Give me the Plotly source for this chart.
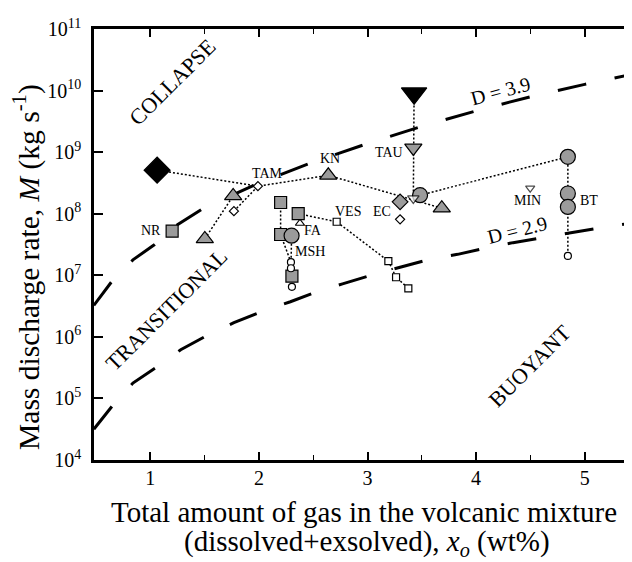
import plotly.graph_objects as go

FONT = "Liberation Serif"
GRAY = "#9b9b9b"

# ---------------- data ----------------
# regime boundary curves (x in wt%, log10 of M in kg/s)
d39_x = [0.48, 0.65, 0.84, 1.04, 1.25, 1.48, 2.00, 2.50, 3.00, 3.50, 4.00, 4.50, 5.00, 5.45]
d39_log10m = [6.51, 6.91, 7.25, 7.50, 7.82, 8.08, 8.50, 8.84, 9.14, 9.42, 9.67, 9.90, 10.10, 10.27]
d29_x = [0.48, 0.66, 0.84, 1.06, 1.28, 1.53, 1.77, 2.01, 2.29, 2.53, 2.77, 3.03, 3.30, 3.55,
         3.83, 4.08, 4.34, 4.66, 4.89, 5.14, 5.44]
d29_log10m = [4.50, 4.90, 5.25, 5.51, 5.79, 6.03, 6.23, 6.40, 6.57, 6.73, 6.86, 7.00, 7.13, 7.25,
              7.34, 7.44, 7.53, 7.63, 7.70, 7.77, 7.85]

# dotted connecting paths (x in wt%, M in kg/s)
path_tam_kn_x = [1.063, 1.991, 2.639]
path_tam_kn_m = [5.1e8, 2.8e8, 4.2e8]
path_kn_tri_x = [2.639, 3.684]
path_kn_tri_m = [4.2e8, 1.23e8]
path_tam_tri_x = [1.502, 1.763]
path_tam_tri_m = [3.9e7, 1.95e8]
path_tam_dia_x = [1.770, 1.991]
path_tam_dia_m = [1.1e8, 2.8e8]
path_tau_x = [3.429, 3.422, 3.422]
path_tau_m = [9.0e9, 1.17e9, 1.77e8]
path_bt_link_x = [3.484, 4.845]
path_bt_link_m = [2.0e8, 8.4e8]
path_bt_x = [4.845, 4.845]
path_bt_m = [8.4e8, 2.06e7]
path_ves_x = [2.362, 2.716, 3.192, 3.263, 3.376]
path_ves_m = [1.0e8, 7.4e7, 1.7e7, 9.3e6, 6.15e6]
path_msh1_x = [2.200, 2.200, 2.295]
path_msh1_m = [1.52e8, 4.6e7, 1.63e7]
path_msh2_x = [2.301, 2.295, 2.295, 2.304, 2.304]
path_msh2_m = [4.4e7, 1.63e7, 1.3e7, 9.7e6, 6.5e6]

# symbols
gray_tri_x = [1.763, 1.502, 2.639, 3.684]
gray_tri_m = [1.95e8, 3.9e7, 4.2e8, 1.23e8]
gray_sq_x = [1.201, 2.200, 2.362, 2.200, 2.304]
gray_sq_m = [5.2e7, 1.52e8, 1.0e8, 4.6e7, 9.7e6]
gray_circ_x = [2.301, 3.484, 4.845, 4.845, 4.845]
gray_circ_m = [4.4e7, 2.0e8, 8.4e8, 2.13e8, 1.29e8]
gray_dia_x = [3.300]
gray_dia_m = [1.56e8]
gray_tridown_x = [3.422]
gray_tridown_m = [1.17e9]
black_dia_x = [1.063]
black_dia_m = [5.1e8]
black_tridown_x = [3.429]
black_tridown_m = [9.0e9]
open_dia_x = [1.991, 1.770, 3.300]
open_dia_m = [2.8e8, 1.1e8, 8.1e7]
open_sq_x = [2.716, 3.192, 3.263, 3.376]
open_sq_m = [7.4e7, 1.7e7, 9.3e6, 6.15e6]
open_circ_x = [2.295, 2.295, 2.304, 4.845]
open_circ_m = [1.63e7, 1.3e7, 6.5e6, 2.06e7]
open_tridown_x = [4.498, 3.422]
open_tridown_m = [2.6e8, 1.77e8]
open_tridown_size = [8, 10]
open_tri_x = [2.378]
open_tri_m = [7.0e7]

# eruption labels
lab_text = ["NR", "TAM", "KN", "TAU", "EC", "VES", "FA", "MSH", "MIN", "BT"]
lab_x = [1.115, 2.083, 2.654, 3.346, 3.235, 2.823, 2.495, 2.470, 4.475, 5.041]
lab_log10m = [7.72, 8.66, 8.90, 9.00, 8.03, 8.03, 7.73, 7.38, 8.22, 8.22]
lab_anchor = ["right", "center", "center", "right", "right", "center", "center", "center",
              "center", "center"]

# regime labels
reg_text = ["COLLAPSE", "TRANSITIONAL", "BUOYANT", "D = 3.9", "D = 2.9"]
reg_x = [1.20, 1.152, 4.498, 4.221, 4.378]
reg_log10m = [10.13, 6.44, 5.53, 10.0, 7.73]
reg_angle = [-45, -45, -45, -15, -14]
reg_size = [22, 22, 22, 20, 20]

x_ticks = [1, 2, 3, 4, 5]
x_minor_ticks = [1.5, 2.5, 3.5, 4.5]
y_exponents = [4, 5, 6, 7, 8, 9, 10, 11]

# ---------------- figure ----------------
# The page body adds an 8px offset, so the figure is sized 8px smaller than the window.
fig = go.Figure()


def add_line(xs, ys, dash, width):
    fig.add_trace(go.Scatter(x=xs, y=ys, mode="lines", hoverinfo="skip",
                             line=dict(color="black", width=width, dash=dash)))


def add_markers(xs, ys, symbol, size, fill, lw=1.2):
    fig.add_trace(go.Scatter(x=xs, y=ys, mode="markers", hoverinfo="skip",
                             marker=dict(symbol=symbol, size=size, color=fill,
                                         line=dict(color="black", width=lw))))


add_line(d39_x, [10 ** v for v in d39_log10m], "29px,29px", 3)
add_line(d29_x, [10 ** v for v in d29_log10m], "29px,29px", 3)

DOT = "2px,2px"
for px_, pm_ in [(path_tam_kn_x, path_tam_kn_m), (path_kn_tri_x, path_kn_tri_m),
                 (path_tam_tri_x, path_tam_tri_m), (path_tam_dia_x, path_tam_dia_m),
                 (path_tau_x, path_tau_m), (path_bt_link_x, path_bt_link_m),
                 (path_bt_x, path_bt_m), (path_ves_x, path_ves_m),
                 (path_msh1_x, path_msh1_m), (path_msh2_x, path_msh2_m)]:
    add_line(px_, pm_, DOT, 1.5)

add_markers(open_tri_x, open_tri_m, "triangle-up", 8, "white")
add_markers(gray_tri_x, gray_tri_m, "triangle-up", 15, GRAY)
add_markers(gray_sq_x, gray_sq_m, "square", 12, GRAY)
add_markers(gray_circ_x, gray_circ_m, "circle", 15, GRAY)
add_markers(gray_dia_x, gray_dia_m, "diamond", 12, GRAY)
add_markers(gray_tridown_x, gray_tridown_m, "triangle-down", 15, GRAY)
add_markers(black_dia_x, black_dia_m, "diamond", 20, "black")
add_markers(black_tridown_x, black_tridown_m, "triangle-down", 22, "black")
add_markers(open_dia_x, open_dia_m, "diamond", 7, "white")
add_markers(open_sq_x, open_sq_m, "square", 7, "white")
add_markers(open_circ_x, open_circ_m, "circle", 7, "white")
add_markers(open_tridown_x, open_tridown_m, "triangle-down", open_tridown_size, "white")

# invisible trace for the right-hand tick axis
fig.add_trace(go.Scatter(x=[None], y=[None], yaxis="y2", mode="markers", hoverinfo="skip"))

annotations = []
for t, x, y, a in zip(lab_text, lab_x, lab_log10m, lab_anchor):
    annotations.append(dict(text=t, x=x, y=y, xref="x", yref="y", xanchor=a, yanchor="middle",
                            showarrow=False, font=dict(family=FONT, size=14, color="black")))
for t, x, y, ang, s in zip(reg_text, reg_x, reg_log10m, reg_angle, reg_size):
    annotations.append(dict(text=t, x=x, y=y, xref="x", yref="y", textangle=ang,
                            showarrow=False, font=dict(family=FONT, size=s, color="black")))
annotations.append(dict(text="Mass discharge rate, <i>M</i> (kg s<sup>-1</sup>)",
                        x=-0.1634, y=0.447, xref="paper", yref="paper", textangle=-90,
                        showarrow=False, font=dict(family=FONT, size=29.5, color="black")))
annotations.append(dict(text="Total amount of gas in the volcanic mixture",
                        x=0.502, y=-0.120, xref="paper", yref="paper", yanchor="middle",
                        showarrow=False, font=dict(family=FONT, size=29, color="black")))
annotations.append(dict(text="(dissolved+exsolved), <i>x<sub>o</sub></i> (wt%)",
                        x=0.508, y=-0.192, xref="paper", yref="paper", yanchor="middle",
                        showarrow=False, font=dict(family=FONT, size=29, color="black")))

fig.update_layout(
    width=624, height=554,
    margin=dict(l=86, r=0, t=21, b=102),
    paper_bgcolor="white", plot_bgcolor="white",
    showlegend=False,
    font=dict(family=FONT, color="black"),
    annotations=annotations,
    xaxis=dict(range=[0.4816, 5.4355], tickmode="array", tickvals=x_ticks,
               ticks="inside", ticklen=8, tickwidth=1.5, tickcolor="black",
               showline=True, linewidth=2.5, linecolor="black", mirror="ticks",
               showgrid=False, zeroline=False, tickfont=dict(family=FONT, size=20),
               ticklabelstandoff=-2,
               minor=dict(tickvals=x_minor_ticks, ticks="inside", ticklen=5,
                          tickwidth=1.2, tickcolor="black", showgrid=False)),
    yaxis=dict(type="log", range=[4, 11], tickmode="array",
               tickvals=[10 ** k for k in y_exponents],
               ticktext=[f"10<sup>{k}</sup>" for k in y_exponents],
               ticks="inside", ticklen=9, tickwidth=1.5, tickcolor="black",
               showline=True, linewidth=2.5, linecolor="black", mirror=False,
               showgrid=False, zeroline=False, tickfont=dict(family=FONT, size=20),
               ticklabelstandoff=6),
    yaxis2=dict(type="log", range=[4, 11], overlaying="y", side="right", tickmode="array",
                tickvals=[10 ** k for k in y_exponents], showticklabels=False,
                ticks="inside", ticklen=6, tickwidth=1.5, tickcolor="black",
                showline=False, showgrid=False, zeroline=False),
)

fig.write_html("out.html")
